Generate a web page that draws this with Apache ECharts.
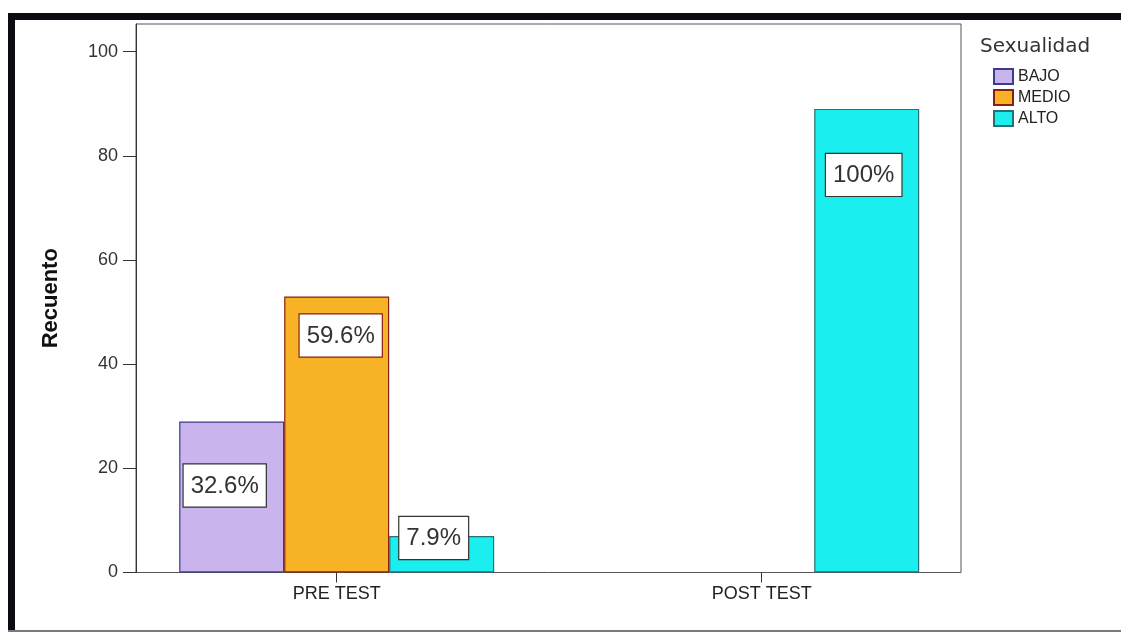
<!DOCTYPE html>
<html>
<head>
<meta charset="utf-8">
<script src="https://cdn.jsdelivr.net/npm/echarts@6/dist/echarts.min.js"></script>
<style>
  html, body { margin: 0; padding: 0; background: #ffffff; }
  #chart { width: 1121px; height: 634px; }
</style>
</head>
<body>
<div id="chart"></div>
<script>
// Counts per test moment and level of "Sexualidad"
const categories = ['PRE TEST', 'POST TEST'];
const levels = ['BAJO', 'MEDIO', 'ALTO'];
const bajo = [29, 0];
const medio = [53, 0];
const alto = [7, 89];
const yTicks = [0, 20, 40, 60, 80, 100];

// Styling per level (fill, outline) and label nudges [dx, dy] per category
const fills = ['#c9b4ee', '#f8b226', '#1aeeee'];
const outlines = ['#3c3c8c', '#8a1f10', '#2a6f74'];
const labelNudges = [
  [[-7, 43], [0, 0]],
  [[4, 18], [0, 0]],
  [[-8, -19], [-3, 45]]
];

const seriesValues = [bajo, medio, alto];
const totals = categories.map((_, i) => seriesValues.reduce((s, arr) => s + arr[i], 0));

function pctText(v, i) {
  const p = (v / totals[i] * 100).toFixed(1);
  return (p.endsWith('.0') ? p.slice(0, -2) : p) + '%';
}

const FONT = '"Liberation Sans", Arial, sans-serif';

const series = levels.map((name, k) => ({
  name: name,
  type: 'bar',
  xAxisIndex: 0,
  yAxisIndex: 0,
  barWidth: 105,
  barGap: '0%',
  itemStyle: { color: fills[k], borderColor: outlines[k], borderWidth: 1.2 },
  data: seriesValues[k].map((v, i) => ({
    value: v,
    // empty cells get no outline so nothing is drawn on the baseline
    itemStyle: { borderWidth: v > 0 ? 1.2 : 0 },
    label: {
      show: v > 0,
      position: 'insideTop',
      distance: 0,
      offset: labelNudges[k][i],
      formatter: () => pctText(v, i),
      backgroundColor: '#ffffff',
      borderColor: k === 1 ? '#8a1f10' : '#333333',
      borderWidth: 1.2,
      padding: [9, 7, 8, 7],
      color: '#333333',
      fontFamily: FONT,
      fontSize: 24,
      lineHeight: 25
    }
  }))
}));

const chart = echarts.init(document.getElementById('chart'), null, { renderer: 'canvas' });
chart.setOption({
  animation: false,
  backgroundColor: '#ffffff',
  title: {
    text: 'Sexualidad',
    left: 975,
    top: 32,
    textStyle: { fontFamily: '"DejaVu Sans", sans-serif', fontSize: 20, fontWeight: 'normal', color: '#333333' }
  },
  legend: {
    data: levels,
    orient: 'vertical',
    left: 993,
    top: 68,
    padding: 0,
    itemWidth: 19,
    itemHeight: 15,
    itemGap: 4,
    icon: 'rect',
    textStyle: { fontFamily: FONT, fontSize: 16, color: '#222222' }
  },
  grid: [
    { left: 124.2, width: 850, top: 24, bottom: 61.5 },
    { left: 136, right: 160, top: 24, bottom: 61.5, show: true, borderColor: '#555555', borderWidth: 1, backgroundColor: 'transparent' }
  ],
  xAxis: [
    {
      type: 'category',
      gridIndex: 0,
      data: categories,
      axisLine: { show: false },
      axisTick: { show: true, alignWithLabel: true, length: 10, lineStyle: { color: '#333333' } },
      axisLabel: { margin: 13, fontFamily: FONT, fontSize: 18, color: '#222222' }
    },
    { type: 'value', gridIndex: 1, show: false }
  ],
  yAxis: [
    {
      type: 'value',
      gridIndex: 0,
      min: yTicks[0],
      max: 105.3,
      interval: yTicks[1] - yTicks[0],
      offset: -11.8,
      name: 'Recuento',
      nameLocation: 'middle',
      nameGap: 74,
      nameTextStyle: { fontFamily: FONT, fontSize: 22, fontWeight: 'bold', color: '#111111' },
      axisLine: { show: true, lineStyle: { color: '#333333' } },
      axisTick: { show: true, length: 13, customValues: yTicks, lineStyle: { color: '#333333' } },
      splitLine: { show: false },
      axisLabel: {
        margin: 18,
        fontFamily: FONT,
        fontSize: 18,
        color: '#333333',
        customValues: yTicks
      }
    },
    { type: 'value', gridIndex: 1, show: false }
  ],
  graphic: [
    { type: 'rect', shape: { x: 8, y: 13, width: 1113, height: 7 }, style: { fill: '#0b0b14' }, silent: true },
    { type: 'rect', shape: { x: 8, y: 13, width: 7, height: 618 }, style: { fill: '#0b0b14' }, silent: true },
    { type: 'rect', shape: { x: 8, y: 630, width: 1113, height: 2 }, style: { fill: '#7a7a7a' }, silent: true }
  ],
  series: series
});
</script>
</body>
</html>
